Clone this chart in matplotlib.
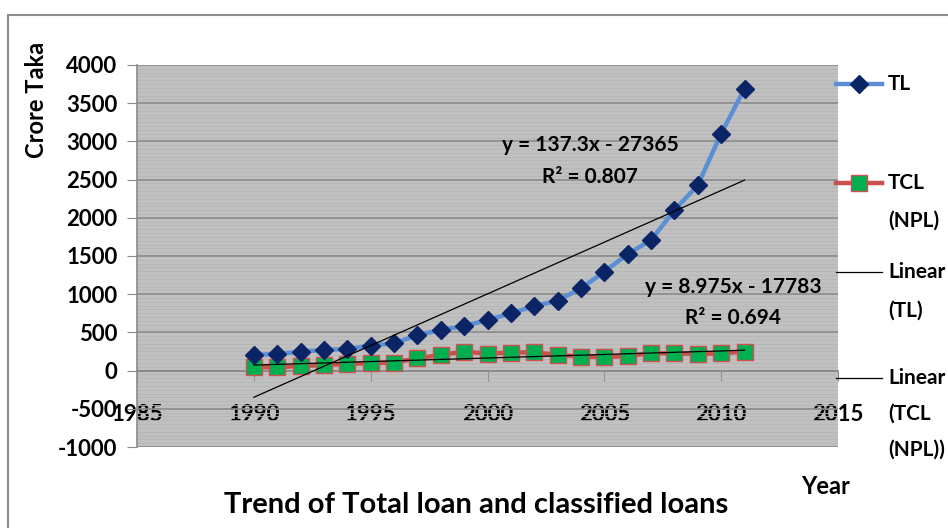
import numpy as np
import matplotlib.pyplot as plt
from matplotlib.lines import Line2D
from matplotlib.patches import Rectangle

plt.rcParams['font.family'] = ['Lato', 'DejaVu Sans']

# total loan (TL) and total classified loan (TCL / NPL), crore taka
years = np.arange(1990, 2012)
tl = [205, 218, 248, 270, 283, 327, 357, 466, 531, 584, 662,
      749, 845, 915, 1076, 1294, 1525, 1708, 2100, 2427, 3102, 3690]
tcl = [44, 44, 61, 74, 87, 96, 105, 161, 205, 249, 222,
       236, 240, 205, 184, 175, 192, 227, 227, 218, 227, 249]

tl_eq = "y = 137.3x - 27365"
tl_r2 = "R² = 0.807"
tcl_eq = "y = 8.975x - 17783"
tcl_r2 = "R² = 0.694"

W, H = 948, 528
fig = plt.figure(figsize=(W / 100, H / 100), dpi=100)
ax = fig.add_axes([137 / W, 1 - 447 / H, 701 / W, 382 / H])
ax.set_facecolor('#C0C0C0')

ax.set_xlim(1985, 2015)
ax.set_ylim(-1000, 4000)
ax.set_yticks(np.arange(-1000, 4001, 500))
ax.set_yticks(np.arange(-1000, 4001, 50), minor=True)
ax.set_xticks(np.arange(1985, 2016, 5))
ax.grid(axis='y', which='major', color='#8A8A8A', lw=1.2, zorder=1)
ax.grid(axis='y', which='minor', color='#B6B6B6', lw=0.6, zorder=0)
ax.set_axisbelow(True)

for s in ['top', 'right']:
    ax.spines[s].set_visible(False)
ax.spines['left'].set_color('#8A8A8A')
ax.spines['left'].set_linewidth(1.2)
ax.spines['bottom'].set_position(('data', 0))
ax.spines['bottom'].set_color('#8A8A8A')
ax.spines['bottom'].set_linewidth(1.2)

tick_font = dict(fontsize=16, fontweight='bold')
ax.tick_params(axis='y', which='major', length=7, color='#8A8A8A', pad=7)
ax.tick_params(axis='y', which='minor', length=0)
ax.tick_params(axis='x', length=7, color='#8A8A8A', pad=17)
ax.set_yticklabels([str(v) for v in ax.get_yticks().astype(int)], **tick_font)
ax.set_xticklabels([str(v) for v in ax.get_xticks().astype(int)], **tick_font)

# series
ax.plot(years, tl, color='#5B8FD4', lw=3.2, marker='D', ms=9.5,
        mfc='#0A2466', mec='#0A2466', zorder=4)
ax.plot(years, tcl, color='#C9504D', lw=3.2, marker='s', ms=12,
        mfc='#00B050', mec='#D05050', mew=1, zorder=3)

# linear trend lines
for ser in (tl, tcl):
    k, b = np.polyfit(years, ser, 1)
    ax.plot(years[[0, -1]], k * years[[0, -1]] + b, color='black', lw=0.9, zorder=5)

eq_font = dict(fontsize=15, fontweight='bold', ha='center', va='center')
ax.text(2004.4, 2954, tl_eq, **eq_font, zorder=6)
ax.text(2004.4, 2535, tl_r2, **eq_font, zorder=6)
ax.text(2010.5, 1098, tcl_eq, **eq_font, zorder=6)
ax.text(2010.5, 693, tcl_r2, **eq_font, zorder=6)

# axis titles and chart title
fig.text(37 / W, 1 - 100 / H, "Crore Taka", rotation=90, ha='center', va='center',
         fontsize=17, fontweight='bold')
fig.text(826 / W, 1 - 486 / H, "Year", ha='center', va='center',
         fontsize=17, fontweight='bold')
fig.text(476 / W, 1 - 505 / H, "Trend of Total loan and classified loans",
         ha='center', va='center', fontsize=21, fontweight='bold')

# legend drawn beside the plot area
leg_font = dict(fontsize=15, fontweight='bold', ha='left', va='center')
x0, x1 = 836 / W, 882 / W
fig.add_artist(Line2D([x0, x1], [1 - 84 / H] * 2, color='#5B8FD4', lw=3.2,
                      transform=fig.transFigure))
fig.add_artist(Line2D([(x0 + x1) / 2], [1 - 84 / H], marker='D', ms=9.5,
                      mfc='#0A2466', mec='#0A2466', transform=fig.transFigure))
fig.add_artist(Line2D([x0, x1], [1 - 183 / H] * 2, color='#C9504D', lw=3.2,
                      transform=fig.transFigure))
fig.add_artist(Line2D([(x0 + x1) / 2], [1 - 183 / H], marker='s', ms=12,
                      mfc='#00B050', mec='#D05050', mew=1, transform=fig.transFigure))
fig.add_artist(Line2D([x0, x1], [1 - 272 / H] * 2, color='black', lw=0.9,
                      transform=fig.transFigure))
fig.add_artist(Line2D([x0, x1], [1 - 378 / H] * 2, color='black', lw=0.9,
                      transform=fig.transFigure))
legend_lines = [("TL", 84), ("TCL", 183), ("(NPL)", 221), ("Linear", 272),
                ("(TL)", 311), ("Linear", 378), ("(TCL", 414), ("(NPL))", 450)]
for txt, py in legend_lines:
    fig.text(888 / W, 1 - py / H, txt, **leg_font)

# chart border
fig.add_artist(Rectangle((8 / W, -0.1), 1.2, 1 - 15 / H + 0.1, fill=False,
                         edgecolor='#8C8C8C', lw=1.5, transform=fig.transFigure))

fig.savefig('out.png', dpi=100)
